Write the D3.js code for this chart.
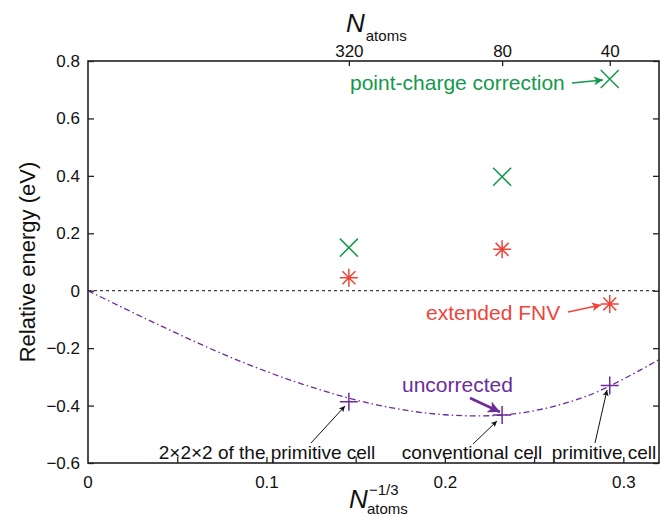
<!DOCTYPE html>
<meta charset="utf-8">
<style>
body { margin: 0; background: #fff; }
svg { font-family: "Liberation Sans", Arial, sans-serif; }
.axis text { font-size: 17px; fill: #111; }
.axis line { stroke: #222; stroke-width: 1.3; }
.axis .domain { display: none; }
</style>
<svg id="chart" width="662" height="517"></svg>
<script src="https://cdn.jsdelivr.net/npm/d3@7"></script>
<script>
// supercell sizes (number of atoms) and their labels
var nAtoms = [320, 80, 40];
var cellNames = ["2\u00d72\u00d72 of the primitive cell", "conventional cell", "primitive cell"];

// relative energies (eV)
var pointCharge = [0.150, 0.397, 0.737];
var extendedFNV = [0.045, 0.144, -0.046];
var uncorrected = [-0.387, -0.433, -0.330];

// dash-dot fit curve of the uncorrected energies
var fitX = [0, 0.04, 0.08, 0.12, 0.16, 0.20, 0.24, 0.28, 0.32];
var fitY = [0, -0.12, -0.232, -0.325, -0.395, -0.432, -0.428, -0.366, -0.24];

var xTicks = [0.05, 0.1, 0.15, 0.2, 0.25, 0.3];
var xLabels = [0, 0.1, 0.2, 0.3];
var yTicks = [-0.6, -0.4, -0.2, 0, 0.2, 0.4, 0.6, 0.8];

var green = "#13994b", red = "#f0443a", purple = "#6c2c9c";

var svg = d3.select("#chart");
var pL = 88, pR = 659, pT = 61, pB = 463;

var x = d3.scaleLinear().domain([0, 0.32]).range([pL, pR]);
var y = d3.scaleLinear().domain([-0.6, 0.8]).range([pB, pT]);
var xs = nAtoms.map(function(n) { return Math.pow(n, -1 / 3); });

var fmt = function(d) { return d === 0 ? "0" : d3.format(".1f")(d); };

// arrow heads
var defs = svg.append("defs");
function head(id, color, w, h) {
  defs.append("marker")
    .attr("id", id)
    .attr("viewBox", "0 0 10 10")
    .attr("refX", 10).attr("refY", 5)
    .attr("markerUnits", "userSpaceOnUse")
    .attr("markerWidth", w).attr("markerHeight", h)
    .attr("orient", "auto")
    .append("path")
    .attr("d", "M0,0L10,5L0,10L2.5,5Z")
    .attr("fill", color);
}
head("hg", green, 13, 9);
head("hr", red, 13, 9);
head("hp", purple, 16, 12);
head("hk", "#111", 9, 6);

// axes
svg.append("g").attr("class", "axis")
  .attr("transform", "translate(0," + pB + ")")
  .call(d3.axisBottom(x).tickValues(xTicks).tickSize(-6).tickPadding(13)
    .tickFormat(function(d) { return xLabels.indexOf(d) >= 0 ? fmt(d) : ""; }));
svg.append("text").attr("x", x(0)).attr("y", 488)
  .attr("text-anchor", "middle").style("font-size", "17px").attr("fill", "#111").text("0");

svg.append("g").attr("class", "axis")
  .attr("transform", "translate(" + pL + ",0)")
  .call(d3.axisLeft(y).tickValues(yTicks).tickSize(-6).tickPadding(8).tickFormat(fmt));

svg.append("g").attr("class", "axis")
  .attr("transform", "translate(" + pR + ",0)")
  .call(d3.axisRight(y).tickValues(yTicks).tickSize(-6).tickFormat(""));

svg.append("g").attr("class", "axis")
  .attr("transform", "translate(0," + pT + ")")
  .call(d3.axisTop(x).tickValues(xs).tickSize(-5).tickPadding(4)
    .tickFormat(function(d, i) { return nAtoms[i]; }));

svg.append("rect")
  .attr("x", pL).attr("y", pT)
  .attr("width", pR - pL).attr("height", pB - pT)
  .attr("fill", "none").attr("stroke", "#222").attr("stroke-width", 1.6);

// zero line
svg.append("line")
  .attr("x1", x(0)).attr("x2", pR)
  .attr("y1", y(0)).attr("y2", y(0))
  .attr("stroke", "#111").attr("stroke-width", 1).attr("stroke-dasharray", "3,3");

// fit curve
var line = d3.line()
  .x(function(d) { return x(d[0]); })
  .y(function(d) { return y(d[1]); })
  .curve(d3.curveCatmullRom);
svg.append("path")
  .datum(d3.zip(fitX, fitY))
  .attr("d", line)
  .attr("fill", "none").attr("stroke", purple).attr("stroke-width", 1.3)
  .attr("stroke-dasharray", "6,3,1.5,3");

// markers
function crossX(r) { return "M" + -r + "," + -r + "L" + r + "," + r + "M" + -r + "," + r + "L" + r + "," + -r; }
function plus(r) { return "M" + -r + ",0L" + r + ",0M0," + -r + "L0," + r; }
function star(r) { var a = r * 0.72; return plus(r) + crossX(a); }

function markers(vals, shape, color) {
  svg.append("g").selectAll("path")
    .data(vals).enter().append("path")
    .attr("transform", function(d, i) { return "translate(" + x(xs[i]) + "," + y(d) + ")"; })
    .attr("d", shape)
    .attr("fill", "none").attr("stroke", color).attr("stroke-width", 1.5);
}
markers(pointCharge, crossX(9), green);
markers(extendedFNV, star(9), red);
markers(uncorrected, plus(9), purple);

// series labels with arrows
function label(txt, tx, ty, color) {
  svg.append("text").attr("x", tx).attr("y", ty)
    .style("font-size", "21px").attr("fill", color).text(txt);
}
function arrow(x1, y1, x2, y2, color, w, m) {
  svg.append("line")
    .attr("x1", x1).attr("y1", y1).attr("x2", x2).attr("y2", y2)
    .attr("stroke", color).attr("stroke-width", w)
    .attr("marker-end", "url(#" + m + ")");
}
label("point-charge correction", 350, 90, green);
arrow(572, 83, 603, 80, green, 1.6, "hg");
label("extended FNV", 426, 320, red);
arrow(568, 312, 601, 305, red, 1.6, "hr");
label("uncorrected", 402, 392, purple);
arrow(470, 398, 500, 412, purple, 2.6, "hp");

// cell labels
var cellX = [267, 472, 604];
var cellFrom = [[311, 443], [473, 444], [595, 443]];
var cellTo = [[345, 406], [497, 421], [607, 390]];
cellNames.forEach(function(n, i) {
  svg.append("text").attr("x", cellX[i]).attr("y", 459)
    .attr("text-anchor", "middle").style("font-size", "19px").attr("fill", "#111").text(n);
  arrow(cellFrom[i][0], cellFrom[i][1], cellTo[i][0], cellTo[i][1], "#111", 1, "hk");
});

// axis titles
svg.append("text")
  .attr("transform", "translate(35,262) rotate(-90)")
  .attr("text-anchor", "middle").style("font-size", "22px").attr("fill", "#111")
  .text("Relative energy (eV)");

var tt = svg.append("text").attr("x", 346).attr("y", 32).attr("fill", "#111");
tt.append("tspan").style("font-size", "26px").style("font-style", "italic").text("N");
tt.append("tspan").attr("dx", 1).attr("dy", 9).style("font-size", "15px").text("atoms");

var bt = svg.append("g").attr("fill", "#111");
bt.append("text").attr("x", 349).attr("y", 508)
  .style("font-size", "26px").style("font-style", "italic").text("N");
bt.append("text").attr("x", 367).attr("y", 514).style("font-size", "15px").text("atoms");
bt.append("text").attr("x", 369).attr("y", 495).style("font-size", "15px").text("\u22121/3");
</script>
